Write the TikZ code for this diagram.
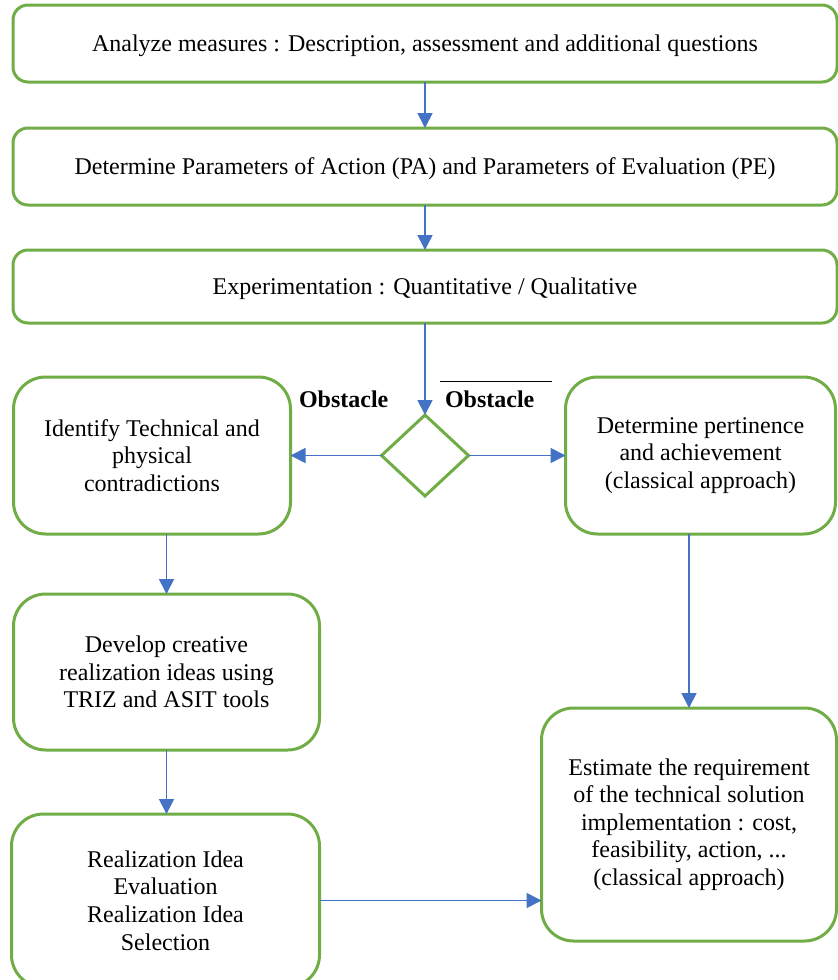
\documentclass[tikz,border=0pt]{standalone}
\usepackage{fontspec}
\setmainfont{Liberation Serif}
\usetikzlibrary{shapes.geometric,arrows.meta,positioning}
\def \px {0.5pt}
\definecolor{boxgreen}{RGB}{112,173,71}
\definecolor{flowblue}{RGB}{68,114,196}
\newcommand\notobstacle{$\overline{\mbox{\kern2.5pt\rule{0pt}{11.5pt}\textbf{Obstacle}\kern9pt}}$}

\begin{document}
\begin{tikzpicture}[x=\px,y=-\px,node distance=46*\px,
    txt/.style={font=\fontsize{12}{13.8}\selectfont,align=center,inner sep=0pt,outer sep=0pt},
    wide/.style={txt,draw=boxgreen,line width=1.5pt,rounded corners=7.5pt,
      minimum width=824*\px,text depth=0pt},
    tall/.style={txt,draw=boxgreen,line width=1.5pt,rounded corners=16pt},
    choice/.style={diamond,draw=boxgreen,line width=1.5pt,inner sep=0pt,outer sep=0pt,
      minimum width=87*\px,minimum height=81*\px},
    flow/.style={draw=flowblue,line width=0.85pt,-{Triangle[length=7.5pt,width=7.5pt]}}]
  \useasboundingbox (0,0) rectangle (838,980);

  \node[wide,minimum height=77*\px] (analyze) at (425,43.5)
    {Analyze measures : Description, assessment and additional questions};
  \node[wide,minimum height=77*\px,below=of analyze] (params)
    {Determine Parameters of Action (PA) and Parameters of Evaluation (PE)};
  \node[wide,minimum height=73*\px,below=45*\px of params] (exper)
    {Experimentation : Quantitative / Qualitative};
  \node[choice,below=92*\px of exper] (test) {};

  \node[tall,left=91*\px of test,minimum width=277*\px,minimum height=157*\px] (identify)
    {Identify Technical and\\physical\\contradictions};
  \node[tall,right=97*\px of test,minimum width=270*\px,minimum height=157*\px] (pertinence)
    {Determine pertinence\\and achievement\\(classical approach)};
  \node[tall,below=60*\px of identify.south west,anchor=north west,
    minimum width=306*\px,minimum height=156*\px] (develop)
    {Develop creative\\realization ideas using\\TRIZ and ASIT tools};
  \node[tall,below=64*\px of develop.south west,anchor=north west,xshift=-1pt,
    minimum width=308*\px,minimum height=173*\px] (realize)
    {Realization Idea\\Evaluation\\Realization Idea\\Selection};
  \node[tall,below=174*\px of pertinence.south west,anchor=north west,xshift=-12pt,
    minimum width=295*\px,minimum height=233*\px] (estimate)
    {Estimate the requirement\\of the technical solution\\implementation : cost,\\feasibility, action, ...\\(classical approach)};

  \node[txt,anchor=base west] (obst) at (299,407) {\textbf{Obstacle}};
  \node[txt,anchor=base west] (noobst) at (440,407) {\notobstacle};

  \draw[flow] (analyze) -- (params);
  \draw[flow] (params) -- (exper);
  \draw[flow] (exper) -- (test);
  \draw[flow] (test) -- (identify);
  \draw[flow] (test) -- (pertinence);
  \draw[flow] (identify.south -| develop.north) -- (develop.north);
  \draw[flow] (develop.south) -- (develop.south |- realize.north);
  \draw[flow] (pertinence.south -| estimate.north) -- (estimate.north);
  \draw[flow] (realize.east) -- (realize.east -| estimate.west);
\end{tikzpicture}
\end{document}
